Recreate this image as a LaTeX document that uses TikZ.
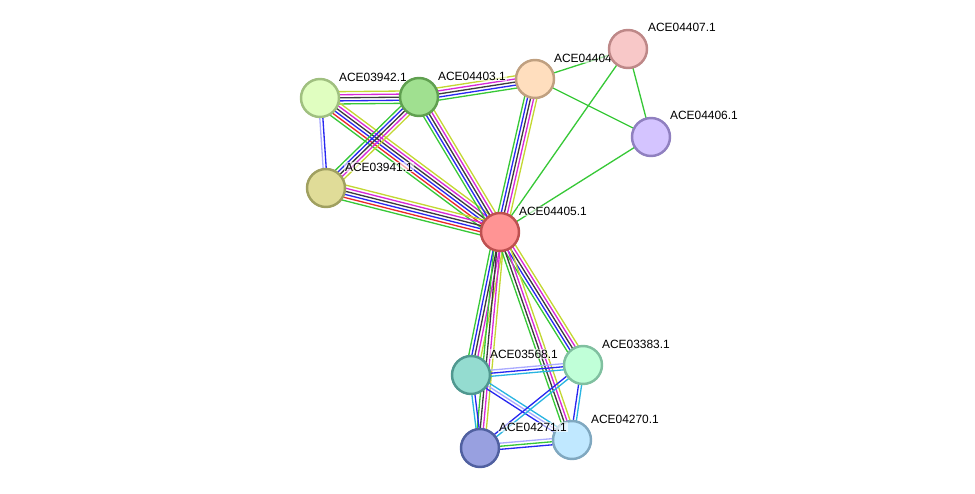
\documentclass[tikz,border=0pt]{standalone}
\usepackage{fontspec}
\setmainfont{Liberation Sans}
\usepackage{tikz}
\usetikzlibrary{calc, backgrounds}
% evidence channel colours
\definecolor{evgrn}{RGB}{55,200,55}
\definecolor{evred}{RGB}{235,40,40}
\definecolor{evblu}{RGB}{40,40,240}
\definecolor{evblk}{RGB}{60,60,60}
\definecolor{evmag}{RGB}{215,40,215}
\definecolor{evyel}{RGB}{195,215,50}
\definecolor{evcyn}{RGB}{40,180,225}
\definecolor{evhom}{RGB}{170,170,255}
% node colours
\definecolor{fcen}{RGB}{255,148,148}\definecolor{dcen}{RGB}{190,80,80}
\definecolor{f3942}{RGB}{224,254,192}\definecolor{d3942}{RGB}{160,192,128}
\definecolor{f4403}{RGB}{160,224,144}\definecolor{d4403}{RGB}{96,160,80}
\definecolor{f4404}{RGB}{255,222,190}\definecolor{d4404}{RGB}{192,160,128}
\definecolor{f4407}{RGB}{248,200,200}\definecolor{d4407}{RGB}{190,136,136}
\definecolor{f4406}{RGB}{212,196,255}\definecolor{d4406}{RGB}{144,128,192}
\definecolor{f3941}{RGB}{224,220,152}\definecolor{d3941}{RGB}{160,160,96}
\definecolor{f3568}{RGB}{148,220,208}\definecolor{d3568}{RGB}{80,152,144}
\definecolor{f3383}{RGB}{192,255,216}\definecolor{d3383}{RGB}{128,192,160}
\definecolor{f4271}{RGB}{152,160,224}\definecolor{d4271}{RGB}{80,96,160}
\definecolor{f4270}{RGB}{192,232,255}\definecolor{d4270}{RGB}{128,168,192}
\tikzset{
  prot/.style={circle, minimum size=0.76cm, inner sep=0pt, line width=1.4pt},
  lbl/.style={anchor=west, inner sep=0.4pt, font=\fontsize{6.8}{8}\selectfont,
    fill=white, fill opacity=0.6, text opacity=1},
  link/.style={line width=0.75pt}
}
\newcommand{\gap}{1.75}
% parallel lines, one per evidence channel
\newcommand{\bundle}[3]{%
  \foreach \col [count=\n] in {#3} {\xdef\nlines{\n}}%
  \foreach \col [count=\i] in {#3} {%
    \pgfmathsetmacro\off{(\i-(\nlines+1)/2)*\gap}%
    \draw[link, color=\col] ($(#1.center)!\off pt!90:(#2.center)$) -- ($(#2.center)!\off pt!-90:(#1.center)$);
  }}

\begin{document}
\begin{tikzpicture}[x=0.02cm, y=-0.02cm]
  \useasboundingbox (0,0) rectangle (975,494);

  % proteins, each with its label
  \node[prot, fill=fcen, draw=dcen] (c) at (500,232) {};
  \node[lbl] (l-c) at ($(c)+(18,-21)$) {ACE04405.1};
  \node[prot, fill=f3942, draw=d3942] (n03942) at (320,98) {};
  \node[lbl] (l03942) at ($(n03942)+(18,-21)$) {ACE03942.1};
  \node[prot, fill=f4403, draw=d4403] (n04403) at (419,97) {};
  \node[lbl] (l04403) at ($(n04403)+(18,-21)$) {ACE04403.1};
  \node[prot, fill=f4404, draw=d4404] (n04404) at (535,79) {};
  \node[lbl] (l04404) at ($(n04404)+(18,-21)$) {ACE04404.1};
  \node[prot, fill=f4407, draw=d4407] (n04407) at (628,49) {};
  \node[lbl] (l04407) at ($(n04407)+(19,-22)$) {ACE04407.1};
  \node[prot, fill=f4406, draw=d4406] (n04406) at (651,137) {};
  \node[lbl] (l04406) at ($(n04406)+(18,-22)$) {ACE04406.1};
  \node[prot, fill=f3941, draw=d3941] (n03941) at (326,188) {};
  \node[lbl] (l03941) at ($(n03941)+(18,-21)$) {ACE03941.1};
  \node[prot, fill=f3568, draw=d3568] (n03568) at (471,375) {};
  \node[lbl] (l03568) at ($(n03568)+(18,-21)$) {ACE03568.1};
  \node[prot, fill=f3383, draw=d3383] (n03383) at (583,365) {};
  \node[lbl] (l03383) at ($(n03383)+(18,-21)$) {ACE03383.1};
  \node[prot, fill=f4270, draw=d4270] (n04270) at (572,440) {};
  \node[lbl] (l04270) at ($(n04270)+(18,-21)$) {ACE04270.1};
  \node[prot, fill=f4271, draw=d4271] (n04271) at (480,448) {};
  \node[lbl] (l04271) at ($(n04271)+(18,-21)$) {ACE04271.1};

  % interactions
  \begin{pgfonlayer}{background}
    \bundle{n03942}{n04403}{evgrn,evblu,evblk,evmag,evyel}
    \bundle{n03942}{c}{evgrn,evred,evblu,evblk,evmag,evyel}
    \bundle{n03942}{n03941}{evhom,evblu}
    \bundle{n04403}{n03941}{evgrn,evblu,evblk,evmag,evyel}
    \bundle{n04403}{c}{evgrn,evblu,evblk,evmag,evyel}
    \bundle{n04403}{n04404}{evgrn,evblu,evblk,evmag,evyel}
    \bundle{n04404}{c}{evgrn,evblu,evblk,evmag,evyel}
    \bundle{n04404}{n04407}{evgrn}
    \bundle{n04404}{n04406}{evgrn}
    \bundle{n04407}{n04406}{evgrn}
    \bundle{n04407}{c}{evgrn}
    \bundle{n04406}{c}{evgrn}
    \bundle{n03941}{c}{evgrn,evred,evblu,evblk,evmag,evyel}
    \bundle{c}{n03568}{evgrn,evblu,evblk,evmag,evyel}
    \bundle{c}{n04271}{evgrn,evblk,evmag,evyel}
    \bundle{c}{n03383}{evgrn,evblu,evblk,evmag,evyel}
    \bundle{c}{n04270}{evgrn,evblk,evmag,evyel}
    \bundle{n03568}{n03383}{evcyn,evblu,evhom}
    \bundle{n03568}{n04270}{evblu,evhom,evcyn}
    \bundle{n03568}{n04271}{evcyn,evblu}
    \bundle{n04271}{n03383}{evcyn,evblu}
    \bundle{n04271}{n04270}{evblu,evgrn,evhom}
    \bundle{n03383}{n04270}{evblu,evcyn}
  \end{pgfonlayer}
\end{tikzpicture}
\end{document}
